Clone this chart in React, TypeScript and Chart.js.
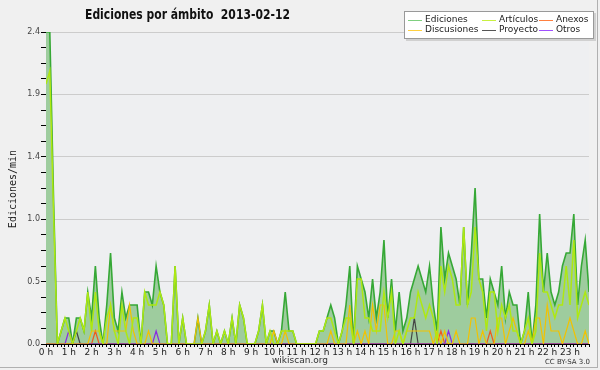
import React, { useEffect, useRef } from 'react';
import { Chart, registerables } from 'chart.js';

Chart.register(...registerables);

// 10-minute slots over the day (0 h .. 23 h 50)
const HOUR_LABELS = ['0 h', '1 h', '2 h', '3 h', '4 h', '5 h', '6 h', '7 h', '8 h', '9 h', '10 h', '11 h',
  '12 h', '13 h', '14 h', '15 h', '16 h', '17 h', '18 h', '19 h', '20 h', '21 h', '22 h', '23 h'];
const SLOTS_PER_HOUR = 6;

const EDICIONES = [
  2.4, 2.4, 1.1, 0, 0.1, 0.2, 0.2, 0, 0.2, 0.2, 0.1, 0.4,
  0.2, 0.6, 0.2, 0, 0.3, 0.7, 0.2, 0.1, 0.4, 0.2, 0.3, 0.3,
  0.3, 0, 0.4, 0.4, 0.3, 0.6, 0.4, 0.3, 0, 0, 0.6, 0,
  0.2, 0, 0, 0, 0.2, 0, 0.1, 0.3, 0, 0.1, 0, 0.1,
  0, 0.2, 0, 0.3, 0.2, 0, 0, 0, 0.1, 0.3, 0, 0.1,
  0.1, 0, 0.1, 0.4, 0.1, 0.1, 0, 0, 0, 0, 0, 0,
  0.1, 0.1, 0.2, 0.3, 0.2, 0, 0.1, 0.3, 0.6, 0, 0.6, 0.5,
  0.4, 0.2, 0.5, 0.2, 0.4, 0.8, 0.2, 0.5, 0.1, 0.4, 0.1, 0.2,
  0.4, 0.5, 0.6, 0.5, 0.4, 0.6, 0.3, 0.1, 0.9, 0.5, 0.7, 0.6,
  0.5, 0.3, 0.9, 0.3, 0.7, 1.2, 0.5, 0.5, 0.2, 0.5, 0.4, 0.3,
  0.6, 0.2, 0.4, 0.3, 0.3, 0, 0.1, 0.4, 0, 0.3, 1.0, 0.4,
  0.7, 0.4, 0.3, 0.4, 0.6, 0.7, 0.7, 1.0, 0.3, 0.6, 0.8, 0.4,
];

const ARTICULOS = [
  2.0, 2.1, 1.0, 0, 0.1, 0.2, 0.1, 0, 0.1, 0.2, 0.1, 0.4,
  0.1, 0.4, 0.1, 0, 0.2, 0.3, 0.1, 0, 0.3, 0.1, 0, 0.2,
  0.2, 0, 0.4, 0.3, 0.3, 0.3, 0.4, 0.3, 0, 0, 0.6, 0,
  0.2, 0, 0, 0, 0, 0, 0.1, 0.3, 0, 0.1, 0, 0.1,
  0, 0.2, 0, 0.3, 0.2, 0, 0, 0, 0.1, 0.3, 0, 0.1,
  0, 0, 0.1, 0.1, 0.1, 0.1, 0, 0, 0, 0, 0, 0,
  0.1, 0.1, 0.2, 0.2, 0.1, 0, 0.1, 0.2, 0.2, 0, 0.5, 0.5,
  0.2, 0.2, 0.1, 0.1, 0.1, 0.4, 0.2, 0.4, 0, 0.1, 0, 0.1,
  0.2, 0.2, 0.4, 0.3, 0.2, 0.3, 0.2, 0, 0.6, 0.4, 0.6, 0.5,
  0.3, 0.3, 0.9, 0.3, 0.4, 0.9, 0.5, 0.4, 0.1, 0.4, 0.4, 0.1,
  0.3, 0.2, 0.3, 0.1, 0.1, 0, 0.1, 0.2, 0, 0.1, 0.7, 0.4,
  0.4, 0.3, 0.2, 0.3, 0.3, 0.6, 0.3, 0.8, 0.2, 0.3, 0.4, 0.3,
];

const DISCUSIONES = [
  0, 0, 0, 0, 0, 0, 0, 0, 0, 0, 0, 0,
  0.1, 0.1, 0.1, 0, 0, 0.3, 0.1, 0.1, 0.1, 0.1, 0.3, 0.1,
  0, 0, 0, 0.1, 0, 0, 0, 0, 0, 0, 0, 0,
  0, 0, 0, 0, 0.2, 0, 0, 0, 0, 0, 0, 0,
  0, 0, 0, 0, 0, 0, 0, 0, 0, 0, 0, 0,
  0.1, 0, 0, 0.1, 0, 0, 0, 0, 0, 0, 0, 0,
  0, 0, 0, 0.1, 0, 0, 0, 0, 0.3, 0, 0.1, 0,
  0.1, 0, 0.3, 0.1, 0.3, 0.3, 0, 0, 0.1, 0.1, 0, 0.1,
  0.1, 0.1, 0.1, 0.1, 0.1, 0.1, 0, 0.1, 0, 0.1, 0, 0,
  0.1, 0, 0, 0, 0.2, 0.2, 0, 0.1, 0, 0, 0, 0.2,
  0.2, 0, 0.1, 0.2, 0.1, 0, 0, 0.1, 0, 0.2, 0.2, 0,
  0.3, 0.1, 0.1, 0.1, 0, 0.1, 0.2, 0.1, 0, 0, 0.1, 0,
];

const ANEXOS = [
  0, 0, 0, 0, 0, 0, 0, 0, 0, 0, 0, 0,
  0, 0.1, 0, 0, 0, 0, 0, 0, 0, 0, 0, 0,
  0, 0, 0, 0, 0, 0, 0, 0, 0, 0, 0, 0,
  0, 0, 0, 0, 0, 0, 0, 0, 0, 0, 0, 0,
  0, 0, 0, 0, 0, 0, 0, 0, 0, 0, 0, 0,
  0, 0, 0, 0, 0, 0, 0, 0, 0, 0, 0, 0,
  0, 0, 0, 0, 0, 0, 0, 0, 0, 0, 0, 0,
  0, 0, 0, 0, 0, 0, 0, 0, 0, 0, 0, 0,
  0, 0, 0, 0, 0, 0, 0, 0, 0.1, 0, 0, 0,
  0, 0, 0, 0, 0, 0, 0, 0, 0, 0.1, 0, 0,
  0, 0, 0, 0, 0, 0, 0, 0, 0, 0, 0, 0,
  0, 0, 0, 0, 0, 0, 0, 0, 0, 0, 0, 0,
];

const PROYECTO = [
  0, 0, 0, 0, 0, 0, 0, 0, 0.1, 0, 0, 0,
  0, 0, 0, 0, 0, 0, 0, 0, 0, 0, 0, 0,
  0, 0, 0, 0, 0, 0, 0, 0, 0, 0, 0, 0,
  0, 0, 0, 0, 0, 0, 0, 0, 0, 0, 0, 0,
  0, 0, 0, 0, 0, 0, 0, 0, 0, 0, 0, 0,
  0, 0, 0, 0, 0, 0, 0, 0, 0, 0, 0, 0,
  0, 0, 0, 0, 0, 0, 0, 0, 0, 0, 0, 0,
  0, 0, 0, 0, 0, 0, 0, 0, 0, 0, 0, 0,
  0, 0.2, 0, 0, 0, 0, 0, 0, 0, 0, 0, 0,
  0, 0, 0, 0, 0, 0, 0, 0, 0, 0, 0, 0,
  0, 0, 0, 0, 0, 0, 0, 0, 0, 0, 0, 0,
  0, 0, 0, 0, 0, 0, 0, 0, 0, 0, 0, 0,
];

const OTROS = [
  0, 0, 0, 0, 0, 0, 0.1, 0, 0, 0, 0, 0,
  0, 0, 0, 0, 0, 0, 0, 0, 0, 0, 0, 0,
  0, 0, 0, 0, 0, 0.1, 0, 0, 0, 0, 0, 0,
  0, 0, 0, 0, 0, 0, 0, 0, 0, 0, 0, 0,
  0, 0, 0, 0, 0, 0, 0, 0, 0, 0, 0, 0,
  0, 0, 0, 0, 0, 0, 0, 0, 0, 0, 0, 0,
  0, 0, 0, 0, 0, 0, 0, 0, 0, 0, 0, 0,
  0, 0, 0, 0, 0, 0, 0, 0, 0, 0, 0, 0,
  0, 0, 0, 0, 0, 0, 0, 0, 0, 0, 0.1, 0,
  0, 0, 0, 0, 0, 0, 0, 0, 0, 0, 0, 0,
  0, 0, 0, 0, 0, 0, 0, 0, 0, 0, 0, 0,
  0, 0, 0, 0, 0, 0, 0, 0, 0, 0, 0, 0,
];

const Y_MAX = 2.4;
const Y_MINOR_STEP = 0.12;
const Y_MAJOR_EVERY = 4;

const SERIES = [
  { name: 'Ediciones', data: EDICIONES, line: '#36a836', legend: '#7fcf7f', width: 1.6, order: 10 },
  { name: 'Artículos', data: ARTICULOS, line: '#aee812', legend: '#c8f040', width: 1.5, order: 1 },
  { name: 'Anexos', data: ANEXOS, line: '#f05a1e', legend: '#ff8040', width: 1.2, order: 4 },
  { name: 'Discusiones', data: DISCUSIONES, line: '#f2c200', legend: '#ffd040', width: 1.2, order: 2 },
  { name: 'Proyecto', data: PROYECTO, line: '#444444', legend: '#555555', width: 1.2, order: 5 },
  { name: 'Otros', data: OTROS, line: '#8a2be2', legend: '#a050ff', width: 1.2, order: 3 },
];

const FONT = '"DejaVu Sans", sans-serif';

export default function App() {
  const canvasRef = useRef<HTMLCanvasElement | null>(null);

  useEffect(() => {
    const canvas = canvasRef.current;
    if (!canvas) return;

    const bgPlugin = {
      id: 'bgPlugin',
      beforeDraw(chart: any) {
        const { ctx, chartArea } = chart;
        ctx.save();
        ctx.fillStyle = '#f0f0f0';
        ctx.fillRect(0, 0, chart.width, chart.height);
        ctx.fillStyle = '#eeeff1';
        ctx.fillRect(chartArea.left, chartArea.top, chartArea.right - chartArea.left, chartArea.bottom - chartArea.top);
        ctx.restore();
      },
    };

    const datasets = SERIES.map((s, idx) => ({
      label: s.name,
      data: s.data.map((v, i) => ({ x: i, y: v })),
      borderColor: s.line,
      borderWidth: s.width,
      backgroundColor: idx === 0 ? 'rgb(158,204,158)' : 'transparent',
      fill: idx === 0 ? 'origin' : false,
      pointRadius: 0,
      tension: 0,
      order: s.order,
    }));

    const isMajor = (v: number) => Math.round(v / Y_MINOR_STEP) % Y_MAJOR_EVERY === 0;

    const chart = new Chart(canvas, {
      type: 'line',
      data: { datasets },
      plugins: [bgPlugin],
      options: {
        responsive: false,
        animation: false,
        devicePixelRatio: 1,
        layout: { padding: { left: 0, top: 32, right: 11, bottom: 0 } },
        plugins: {
          legend: { display: false },
          tooltip: { enabled: false },
          title: { display: false },
        },
        scales: {
          x: {
            type: 'linear',
            min: 0,
            max: EDICIONES.length - 1,
            afterFit: (scale: any) => { scale.height = 26; },
            border: { display: true, color: '#000', width: 1 },
            grid: { drawOnChartArea: false, drawTicks: true, tickLength: 3, tickColor: '#000', lineWidth: 1 },
            ticks: {
              stepSize: 1,
              autoSkip: false,
              maxRotation: 0,
              minRotation: 0,
              padding: 0,
              color: '#222',
              font: { family: FONT, size: 9 },
              callback: (v: any) => {
                const n = Math.round(Number(v));
                return n % SLOTS_PER_HOUR === 0 ? HOUR_LABELS[n / SLOTS_PER_HOUR] : '';
              },
            },
          },
          y: {
            type: 'linear',
            min: 0,
            max: Y_MAX,
            afterFit: (scale: any) => { scale.width = 46; },
            border: { display: true, color: '#000', width: 1 },
            grid: {
              drawTicks: true,
              tickLength: 5,
              tickColor: '#000',
              color: (ctx: any) => (ctx.tick && isMajor(ctx.tick.value) && ctx.tick.value > 0 ? '#cccccc' : 'rgba(0,0,0,0)'),
            },
            ticks: {
              stepSize: Y_MINOR_STEP,
              autoSkip: false,
              padding: 1,
              color: '#444',
              font: { family: FONT, size: 8 },
              callback: (v: any) => (isMajor(Number(v)) ? Number(v).toFixed(1) : ''),
            },
          },
        },
      },
    } as any);

    return () => chart.destroy();
  }, []);

  const legendPos = [
    { x: 3, y: 3 }, { x: 77, y: 3 }, { x: 134, y: 3 },
    { x: 3, y: 13 }, { x: 77, y: 13 }, { x: 134, y: 13 },
  ];
  const legendOrder = [0, 1, 2, 3, 4, 5];

  return (
    <div style={{ position: 'absolute', left: 0, top: 0, width: 600, height: 370, overflow: 'hidden', background: '#f0f0f0' }}>
      <canvas ref={canvasRef} width={600} height={370} style={{ display: 'block', width: 600, height: 370 }} />
      <div style={{ position: 'absolute', left: 0, top: 0, width: 597, height: 367, borderRight: '1px solid #b0b0b0', borderBottom: '1px solid #b0b0b0', pointerEvents: 'none' }} />
      <div style={{ position: 'absolute', left: 85, top: 6, whiteSpace: 'pre', fontFamily: FONT, fontWeight: 'bold', fontSize: 13.5, color: '#111', transform: 'scaleX(0.8)', transformOrigin: 'left top' }}>
        {'Ediciones por ámbito  2013-02-12'}
      </div>
      <div style={{ position: 'absolute', left: 404, top: 11, width: 188, height: 26, background: '#fff', border: '1px solid #999', boxShadow: '2px 2px 0 #d0d0d0' }}>
        {legendOrder.map((si, k) => (
          <div key={SERIES[si].name} style={{ position: 'absolute', left: legendPos[k].x, top: legendPos[k].y, height: 10, whiteSpace: 'nowrap' }}>
            <span style={{ position: 'absolute', left: 0, top: 5, width: 14, height: 1, background: SERIES[si].legend }} />
            <span style={{ position: 'absolute', left: 17, top: -1, fontFamily: FONT, fontSize: 9, color: '#222', lineHeight: '11px' }}>{SERIES[si].name}</span>
          </div>
        ))}
      </div>
      <div style={{ position: 'absolute', left: 12, top: 189, width: 0, height: 0 }}>
        <div style={{ position: 'absolute', transform: 'translate(-50%, -50%) rotate(-90deg)', whiteSpace: 'nowrap', fontFamily: '"DejaVu Sans Mono", monospace', fontSize: 10, color: '#222' }}>
          Ediciones/min
        </div>
      </div>
      <div style={{ position: 'absolute', left: 300, top: 355, transform: 'translateX(-50%)', fontFamily: FONT, fontSize: 9, color: '#333', whiteSpace: 'nowrap' }}>
        wikiscan.org
      </div>
      <div style={{ position: 'absolute', right: 10, top: 358, fontFamily: FONT, fontSize: 7, color: '#333', whiteSpace: 'nowrap' }}>
        CC BY-SA 3.0
      </div>
    </div>
  );
}
